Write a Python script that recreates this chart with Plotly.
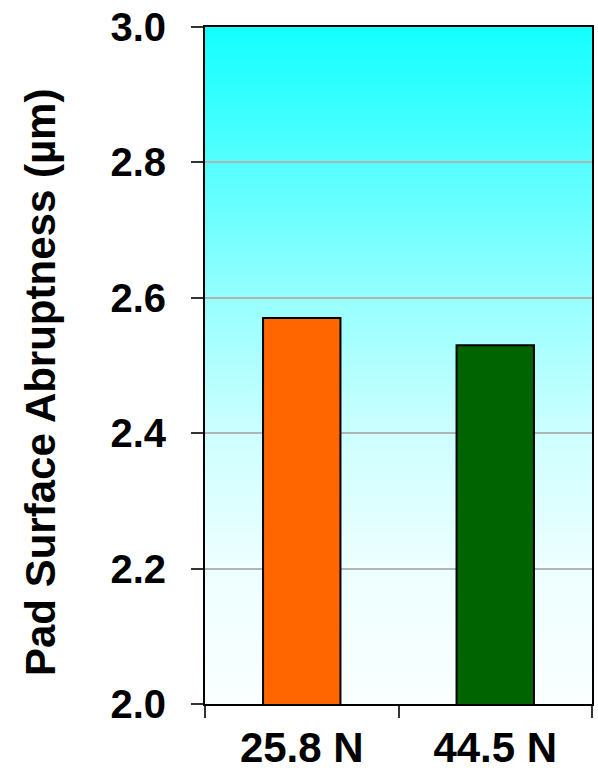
import base64
import struct
import zlib

import plotly.graph_objects as go

# Data
categories = ["25.8 N", "44.5 N"]
abruptness = [2.57, 2.53]
bar_colors = ["#FF6600", "#006400"]
y_ticks = [2.0, 2.2, 2.4, 2.6, 2.8, 3.0]
y_tick_labels = ["2.0", "2.2", "2.4", "2.6", "2.8", "3.0"]
y_title = "Pad Surface Abruptness (µm)"

FONT = "Liberation Sans, Arial, sans-serif"

# Plot-area geometry in pixels
W, H = 598, 774
M_L, M_R, M_T, M_B = 205, 6, 27, 70
PLOT_W = W - M_L - M_R
PLOT_H = H - M_T - M_B


def gradient_png(stops, height=256):
    """Build a 1-pixel-wide vertical gradient PNG (top -> bottom) as a data URI."""
    rows = b""
    for i in range(height):
        t = i / (height - 1)
        for (t0, c0), (t1, c1) in zip(stops[:-1], stops[1:]):
            if t0 <= t <= t1:
                f = (t - t0) / (t1 - t0) if t1 > t0 else 0
                rgb = [round(a + (b - a) * f) for a, b in zip(c0, c1)]
                break
        rows += b"\x00" + bytes(rgb)

    def chunk(tag, data):
        body = tag + data
        return struct.pack(">I", len(data)) + body + struct.pack(">I", zlib.crc32(body) & 0xFFFFFFFF)

    png = b"\x89PNG\r\n\x1a\n"
    png += chunk(b"IHDR", struct.pack(">IIBBBBB", 1, height, 8, 2, 0, 0, 0))
    png += chunk(b"IDAT", zlib.compress(rows, 9))
    png += chunk(b"IEND", b"")
    return "data:image/png;base64," + base64.b64encode(png).decode()


bg_stops = [
    (0.0, (20, 255, 255)),
    (0.2, (85, 255, 255)),
    (0.4, (150, 255, 255)),
    (0.6, (205, 255, 255)),
    (0.8, (238, 255, 255)),
    (1.0, (250, 255, 255)),
]

fig = go.Figure(
    go.Bar(
        x=categories,
        y=abruptness,
        marker=dict(color=bar_colors, line=dict(color="black", width=2)),
        showlegend=False,
    )
)

fig.update_layout(
    width=W,
    height=H,
    margin=dict(l=M_L, r=M_R, t=M_T, b=M_B),
    paper_bgcolor="white",
    plot_bgcolor="white",
    bargap=0.6,
    font=dict(family=FONT, color="black"),
    images=[
        dict(
            source=gradient_png(bg_stops),
            xref="paper",
            yref="paper",
            x=0,
            y=1,
            sizex=1,
            sizey=1,
            xanchor="left",
            yanchor="top",
            sizing="stretch",
            layer="below",
        )
    ],
    annotations=[
        dict(
            text=y_title,
            textangle=-90,
            xref="paper",
            yref="paper",
            x=(41 - M_L) / PLOT_W,
            y=(H - M_B - 383) / PLOT_H,
            xanchor="center",
            yanchor="middle",
            showarrow=False,
            font=dict(family=FONT, size=42, color="black", weight="bold"),
        )
    ],
)

fig.update_xaxes(
    type="category",
    automargin=False,
    showline=True,
    linecolor="black",
    linewidth=2,
    mirror=True,
    ticks="outside",
    tickson="boundaries",
    ticklen=12,
    tickwidth=1.5,
    tickcolor="#333333",
    showgrid=False,
    ticklabelstandoff=6,
    tickfont=dict(family=FONT, size=42, color="black", weight="bold"),
)

fig.update_yaxes(
    range=[2.0, 3.0],
    automargin=False,
    tickvals=y_ticks,
    ticktext=y_tick_labels,
    showline=True,
    linecolor="black",
    linewidth=2,
    mirror=True,
    ticks="outside",
    ticklen=12,
    tickwidth=1.5,
    tickcolor="#333333",
    showgrid=True,
    gridcolor="#B4B4B4",
    gridwidth=2,
    zeroline=False,
    ticklabelstandoff=17,
    tickfont=dict(family=FONT, size=40, color="black", weight="bold"),
)

fig.write_html("out.html")
